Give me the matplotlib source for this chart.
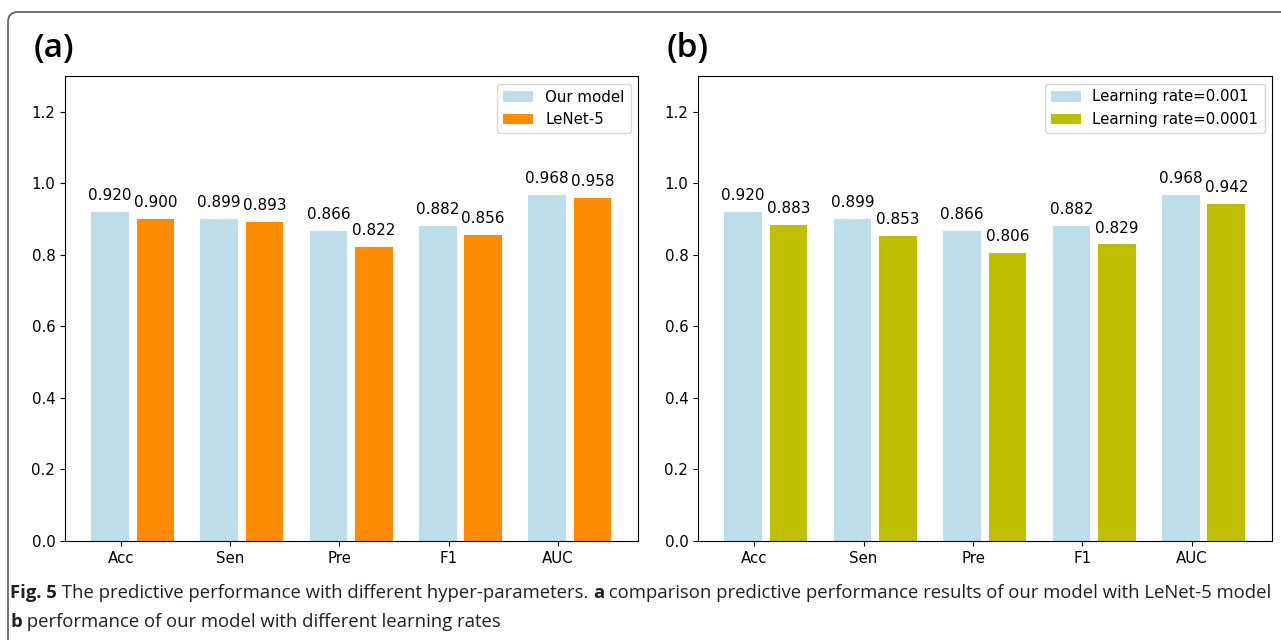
import matplotlib
matplotlib.use("Agg")
import matplotlib.pyplot as plt
import numpy as np
from matplotlib.patches import FancyBboxPatch
from matplotlib.transforms import IdentityTransform

metrics = ['Acc', 'Sen', 'Pre', 'F1', 'AUC']
our_model = [0.920, 0.899, 0.866, 0.882, 0.968]
lenet5 = [0.900, 0.893, 0.822, 0.856, 0.958]
lr_0001 = [0.883, 0.853, 0.806, 0.829, 0.942]

W, H = 1281, 640
fig = plt.figure(figsize=(W / 100, H / 100), dpi=100)

# rounded frame around the whole figure
frame = FancyBboxPatch((8, -60), W + 60, H - 12 + 60,
                       boxstyle="round,pad=0,rounding_size=10",
                       transform=IdentityTransform(), fill=False,
                       edgecolor='#5a5a5a', linewidth=1.2)
fig.patches.append(frame)


def px_axes(left, right, top, bottom):
    return fig.add_axes([left / W, (H - bottom) / H,
                         (right - left) / W, (bottom - top) / H])


def panel(ax, first, second, labels, color2):
    x = np.arange(len(metrics))
    w = 0.345
    b1 = ax.bar(x - 0.1, first, w, color='#bcdde9', label=labels[0])
    b2 = ax.bar(x + 0.315, second, w, color=color2, label=labels[1])
    for bars in (b1, b2):
        for r in bars:
            h = r.get_height()
            ax.text(r.get_x() + r.get_width() / 2, h + 0.025, '%.3f' % h,
                    ha='center', va='bottom', fontsize=11)
    ax.set_xticks(x)
    ax.set_xticklabels(metrics, fontsize=10.8)
    ax.tick_params(axis='y', labelsize=10.8)
    ax.set_ylim(0, 1.3)
    ax.set_yticks([0.0, 0.2, 0.4, 0.6, 0.8, 1.0, 1.2])
    ax.set_xlim(-0.512, 4.732)
    ax.legend(loc='upper right', fontsize=10.8)


ax1 = px_axes(65, 638, 76, 541)
panel(ax1, our_model, lenet5, ['Our model', 'LeNet-5'], 'darkorange')
ax2 = px_axes(698, 1272, 76, 541)
panel(ax2, our_model, lr_0001, ['Learning rate=0.001', 'Learning rate=0.0001'], 'y')

fig.text(34 / W, 1 - 57 / H, '(a)', fontsize=24, family='Open Sans', weight='semibold')
fig.text(667 / W, 1 - 57 / H, '(b)', fontsize=24, family='Open Sans', weight='semibold')

# caption with mixed bold / regular pieces
cap_font = dict(family='Open Sans', fontsize=13.3)
lines = [
    [('Fig. 5', 'bold'), (' The predictive performance with different hyper-parameters. ', 'normal'),
     ('a', 'bold'), (' comparison predictive performance results of our model with LeNet-5 model', 'normal')],
    [('b', 'bold'), (' performance of our model with different learning rates', 'normal')],
]
renderer = fig.canvas.get_renderer()
for i, pieces in enumerate(lines):
    xpos = 10
    ybase = 598 + i * 29
    for txt, wt in pieces:
        t = fig.text(xpos / W, 1 - ybase / H, txt, weight=wt, color='#231f20', **cap_font)
        xpos += t.get_window_extent(renderer).width

fig.savefig('out.png', dpi=100)
